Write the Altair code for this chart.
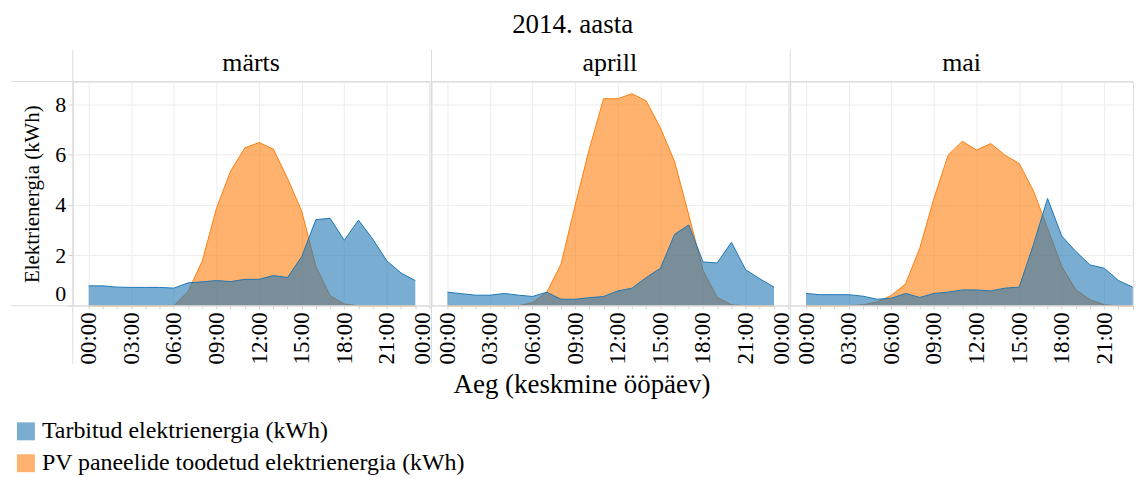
import altair as alt
import pandas as pd

months = ["märts", "aprill", "mai"]
hours = list(range(24))
series_names = ["Tarbitud elektrienergia (kWh)", "PV paneelide toodetud elektrienergia (kWh)"]

consumed_mar = [0.79, 0.79, 0.74, 0.73, 0.73, 0.73, 0.70, 0.91, 0.95, 1.00, 0.96, 1.05,
                1.05, 1.20, 1.12, 1.95, 3.42, 3.47, 2.60, 3.40, 2.65, 1.78, 1.30, 1.00]
pv_mar = [0, 0, 0, 0, 0, 0, 0.0, 0.57, 1.78, 3.87, 5.35, 6.27,
          6.48, 6.22, 5.06, 3.76, 1.56, 0.40, 0.07, 0, 0, 0, 0, 0]
consumed_apr = [0.54, 0.48, 0.42, 0.42, 0.49, 0.42, 0.37, 0.54, 0.26, 0.26, 0.32, 0.37,
                0.59, 0.70, 1.12, 1.49, 2.84, 3.21, 1.74, 1.70, 2.52, 1.43, 1.07, 0.74]
pv_apr = [0, 0, 0, 0, 0, 0, 0.13, 0.54, 1.65, 4.00, 6.24, 8.22,
          8.22, 8.42, 8.13, 7.06, 5.72, 3.60, 1.40, 0.33, 0.04, 0, 0, 0]
consumed_may = [0.49, 0.44, 0.44, 0.44, 0.38, 0.26, 0.30, 0.49, 0.33, 0.49, 0.54, 0.63,
                0.63, 0.59, 0.70, 0.74, 2.42, 4.26, 2.77, 2.15, 1.62, 1.49, 1.00, 0.74]
pv_may = [0, 0, 0, 0, 0.04, 0.15, 0.41, 0.87, 2.28, 4.26, 5.98, 6.53,
          6.18, 6.44, 5.98, 5.65, 4.57, 3.08, 1.56, 0.63, 0.24, 0.04, 0, 0]

y_ticks = [0, 2, 4, 6, 8]
x_title = "Aeg (keskmine ööpäev)"
y_title = "Elektrienergia (kWh)"
main_title = "2014. aasta"

rows = []
for m, cons, pv in [(months[0], consumed_mar, pv_mar),
                    (months[1], consumed_apr, pv_apr),
                    (months[2], consumed_may, pv_may)]:
    for h, c, p in zip(hours, cons, pv):
        rows.append({"month": m, "hour": h, "series": series_names[0], "value": c})
        rows.append({"month": m, "hour": h, "series": series_names[1], "value": p})
df = pd.DataFrame(rows)

FONT = "Liberation Serif"
W, H = 358, 225
W3 = 1136 - 792
X0 = -1.12
PX_PER_H = W / (24 - X0)

label_expr = ("datum.value % 3 == 0 ? ((datum.value % 24) < 10 ? '0' : '') + (datum.value % 24) + ':00' : ''")

color_enc = alt.Color(
    "series:N",
    scale=alt.Scale(domain=series_names, range=["#1f77b4", "#ff7f0e"]),
    legend=alt.Legend(
        title=None,
        orient="none",
        legendX=-59,
        legendY=339,
        direction="vertical",
        symbolType="square",
        symbolSize=324,
        symbolOpacity=0.6,
        symbolStrokeWidth=0,
        labelFontSize=24,
        labelFont=FONT,
        labelColor="black",
        labelLimit=0,
        labelOffset=4,
        rowPadding=8,
    ),
)


def panel(month, width, show_y, show_xtitle):
    x_end = X0 + width / PX_PER_H
    tick_vals = [v for v in range(25) if v <= x_end + 1e-6]
    x_enc = alt.X(
        "hour:Q",
        scale=alt.Scale(domain=[X0, x_end], nice=False, zero=False),
        axis=alt.Axis(
            values=tick_vals,
            labelExpr=label_expr,
            labelAngle=-90,
            labelFontSize=23,
            labelPadding=3,
            labelFlush=False,
            labelBaseline={"condition": {"test": "datum.value == 24", "value": "alphabetic"}, "value": "middle"},
            tickSize=3,
            tickColor="#d0d0d0",
            domain=False,
            gridOpacity={"condition": {"test": "datum.value % 3 != 0", "value": 0}, "value": 1},
            title=x_title if show_xtitle else None,
            titleFontSize=27,
            titlePadding=8,
            titleX=582.5 - 432 if show_xtitle else width / 2,
        ),
    )
    if show_y:
        y_axis = alt.Axis(values=y_ticks, labelFlush=True, labelFontSize=22, tickSize=5,
                          tickColor="#d0d0d0", domain=False, title=y_title,
                          titleFontSize=21, titlePadding=12)
    else:
        y_axis = alt.Axis(values=y_ticks, labels=False, ticks=False, domain=False, title=None)
    y_enc = alt.Y("value:Q", scale=alt.Scale(domain=[0, 8.9], nice=False), axis=y_axis)

    base = alt.Chart(df).transform_filter(alt.datum.month == month)
    pv_layer = base.transform_filter(alt.datum.series == series_names[1]).mark_area(
        opacity=0.6, line={"strokeWidth": 1}).encode(x=x_enc, y=y_enc, color=color_enc)
    cons_layer = base.transform_filter(alt.datum.series == series_names[0]).mark_area(
        opacity=0.6, line={"strokeWidth": 1}).encode(x=x_enc, y=y_enc, color=color_enc)

    one = base.transform_filter((alt.datum.hour == 0) & (alt.datum.series == series_names[0]))
    left = -62 if show_y else -2
    sep = one.mark_rule(color="#dcdcdc", strokeWidth=1).encode(
        x=alt.value(0), y=alt.value(-32), y2=alt.value(283))
    top_line = one.mark_rule(color="#dcdcdc", strokeWidth=1).encode(
        x=alt.value(left), x2=alt.value(width), y=alt.value(0))
    bot_line = one.mark_rule(color="#dcdcdc", strokeWidth=1).encode(
        x=alt.value(left), x2=alt.value(width), y=alt.value(H))

    return alt.layer(pv_layer, cons_layer, sep, top_line, bot_line).properties(
        width=width, height=H,
        title=alt.TitleParams(month, fontSize=26, font=FONT, fontWeight="normal",
                              anchor="middle", frame="group", offset=-27, color="black"),
    )


p1 = panel(months[0], W, True, False)
p2 = panel(months[1], W, False, True)
p3 = panel(months[2], W3, False, False)

chart = alt.hconcat(p1, p2, p3, spacing=2).resolve_scale(
    x="independent", y="independent"
).properties(
    title=alt.TitleParams(main_title, fontSize=27, font=FONT, fontWeight="normal",
                          anchor="middle", offset=10, color="black"),
    bounds="flush",
    padding={"left": 2, "top": 2, "right": 0, "bottom": 0},
).configure_view(
    stroke="#dcdcdc"
).configure_axis(
    labelFont=FONT,
    titleFont=FONT,
    labelColor="black",
    titleColor="black",
    titleFontWeight="normal",
    gridColor="#ececec",
)

chart.save("out.html", embed_options={"renderer": "svg", "actions": False})
